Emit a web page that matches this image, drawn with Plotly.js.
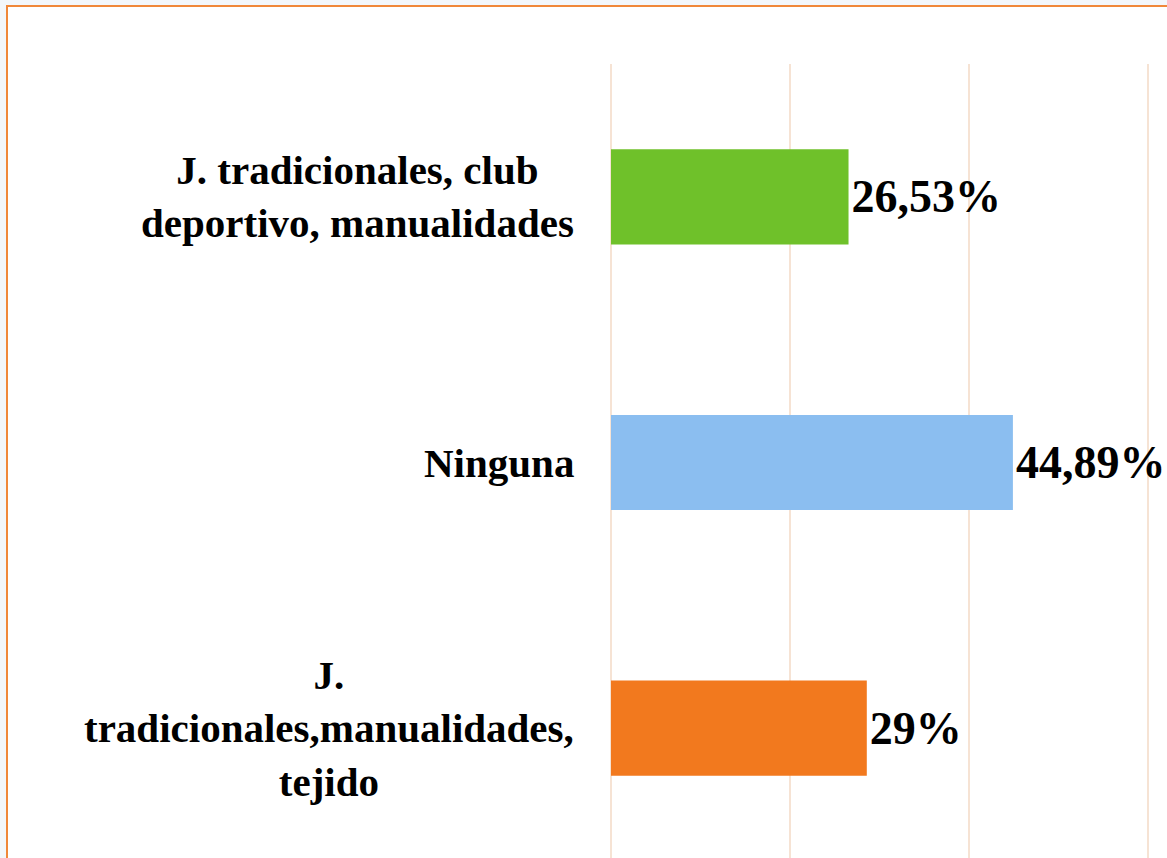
<!DOCTYPE html>
<html>
<head>
<meta charset="utf-8">
<script src="https://cdn.plot.ly/plotly-3.0.1.min.js"></script>
<style>
  html, body { margin: 0; padding: 0; width: 1167px; height: 858px; overflow: hidden; background: #F3F7FB; }
  #frame { position: absolute; left: 6px; top: 5px; width: 1300px; height: 1000px; border: 2px solid #F0883A; background: #FFFFFF; }
  #chart { position: absolute; left: 0; top: 0; width: 1167px; height: 861px; }
</style>
</head>
<body>
<div id="frame"></div>
<div id="chart"></div>
<script>
// Data (bottom to top)
const categories = [
  "J.<br>tradicionales,manualidades,<br>tejido",
  "Ninguna",
  "J. tradicionales, club<br>deportivo, manualidades"
];
const values = [28.57, 44.89, 26.53];
const valueLabels = ["29%", "44,89%", "26,53%"];
const barColors = ["#F2791E", "#8BBEF0", "#6FC12A"];

const serif = "Liberation Serif";

const trace = {
  type: "bar",
  orientation: "h",
  y: categories,
  x: values,
  text: valueLabels,
  textposition: "outside",
  textfont: { family: serif, size: 46, color: "#000000", weight: 700 },
  marker: { color: barColors },
  width: 0.358,
  cliponaxis: false,
  hoverinfo: "none"
};

const annotations = categories.map(function (c) {
  return {
    xref: "paper", yref: "y",
    x: 0, y: c,
    xanchor: "right", yanchor: "middle",
    xshift: -35,
    align: "center",
    showarrow: false,
    text: c,
    font: { family: serif, size: 41, color: "#000000", weight: 700 }
  };
});

const layout = {
  width: 1167,
  height: 861,
  margin: { l: 611, r: 0, t: 64, b: 0, pad: 0 },
  paper_bgcolor: "rgba(0,0,0,0)",
  plot_bgcolor: "rgba(0,0,0,0)",
  showlegend: false,
  xaxis: {
    range: [0, 62.1],
    dtick: 20,
    tick0: 0,
    showgrid: true,
    gridcolor: "#F6E3D4",
    gridwidth: 2,
    zeroline: true,
    zerolinecolor: "#F6E3D4",
    zerolinewidth: 2,
    showticklabels: false,
    showline: false,
    fixedrange: true
  },
  yaxis: {
    type: "category",
    range: [-0.5, 2.5],
    showticklabels: false,
    showgrid: false,
    zeroline: false,
    showline: false,
    fixedrange: true
  },
  annotations: annotations
};

Plotly.newPlot("chart", [trace], layout, { displayModeBar: false, staticPlot: true });
</script>
</body>
</html>
